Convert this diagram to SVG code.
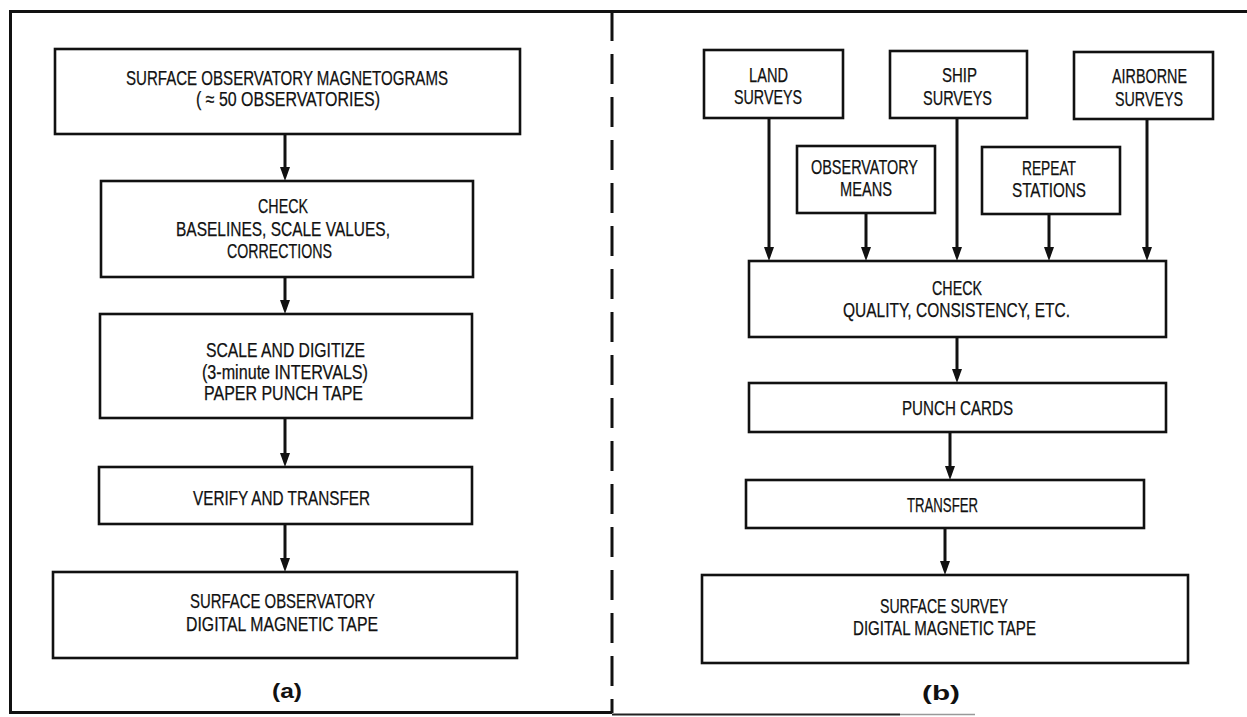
<svg xmlns="http://www.w3.org/2000/svg" width="1247" height="717" viewBox="0 0 1247 717">
<defs>
<marker id="ah" viewBox="0 0 14 10" refX="4" refY="5" markerWidth="14" markerHeight="10" markerUnits="userSpaceOnUse" orient="auto">
<path d="M0,0 L14,5 L0,10 z" fill="#111"/>
</marker>
<style>
.box{fill:#fff;stroke:#111;stroke-width:2.6}
.t{font-family:"Liberation Sans",Arial,sans-serif;font-size:20px;fill:#111;stroke:#111;stroke-width:0.25}
.lbl{font-family:"Liberation Sans",Arial,sans-serif;font-size:21px;font-weight:bold;fill:#111}
.c{stroke:#111;stroke-width:3;fill:none;marker-end:url(#ah)}
.frame{stroke:#111;stroke-width:3;fill:none}
</style>
</defs>
<rect width="1247" height="717" fill="#fff"/>
<g id="frame">
<line class="frame" x1="9" y1="11.5" x2="1247" y2="11.5"/>
<line class="frame" x1="10.5" y1="10" x2="10.5" y2="714"/>
<line class="frame" x1="9" y1="712.5" x2="612" y2="712.5"/>
<line x1="612" y1="714.5" x2="900" y2="714.5" stroke="#222" stroke-width="2"/>
<line x1="900" y1="714.5" x2="975" y2="714.5" stroke="#999" stroke-width="1.5"/>
<line x1="612" y1="11" x2="612" y2="713" stroke="#111" stroke-width="3" stroke-dasharray="30 13"/>
</g>
<g id="connectors">
<line class="c" x1="285" y1="134" x2="285" y2="171"/>
<line class="c" x1="285" y1="277" x2="285" y2="304"/>
<line class="c" x1="285" y1="418" x2="285" y2="457"/>
<line class="c" x1="285" y1="524" x2="285" y2="562"/>
<line class="c" x1="769" y1="118" x2="769" y2="251"/>
<line class="c" x1="866" y1="213" x2="866" y2="251"/>
<line class="c" x1="957" y1="118" x2="957" y2="251"/>
<line class="c" x1="1049" y1="214" x2="1049" y2="251"/>
<line class="c" x1="1147" y1="119" x2="1147" y2="251"/>
<line class="c" x1="957" y1="337" x2="957" y2="373"/>
<line class="c" x1="950" y1="432" x2="950" y2="470"/>
<line class="c" x1="945" y1="528" x2="945" y2="565"/>
</g>
<g id="a-magnetograms">
<rect class="box" x="55" y="49" width="465" height="85"/>
<text class="t" x="126" y="85" textLength="322" lengthAdjust="spacingAndGlyphs">SURFACE OBSERVATORY MAGNETOGRAMS</text>
<text class="t" x="196" y="106" textLength="184" lengthAdjust="spacingAndGlyphs">( ≈ 50 OBSERVATORIES)</text>
</g>
<g id="a-check">
<rect class="box" x="101" y="181" width="372" height="96"/>
<text class="t" x="258" y="213" textLength="50" lengthAdjust="spacingAndGlyphs">CHECK</text>
<text class="t" x="176" y="236" textLength="214" lengthAdjust="spacingAndGlyphs">BASELINES, SCALE VALUES,</text>
<text class="t" x="227" y="258" textLength="105" lengthAdjust="spacingAndGlyphs">CORRECTIONS</text>
</g>
<g id="a-digitize">
<rect class="box" x="100" y="314" width="372" height="104"/>
<text class="t" x="206" y="357" textLength="159" lengthAdjust="spacingAndGlyphs">SCALE AND DIGITIZE</text>
<text class="t" x="202" y="379" textLength="166" lengthAdjust="spacingAndGlyphs">(3-minute INTERVALS)</text>
<text class="t" x="204" y="400" textLength="159" lengthAdjust="spacingAndGlyphs">PAPER PUNCH TAPE</text>
</g>
<g id="a-verify">
<rect class="box" x="99" y="467" width="373" height="57"/>
<text class="t" x="193" y="505" textLength="177" lengthAdjust="spacingAndGlyphs">VERIFY AND TRANSFER</text>
</g>
<g id="a-tape">
<rect class="box" x="53" y="572" width="464" height="86"/>
<text class="t" x="190" y="608" textLength="185" lengthAdjust="spacingAndGlyphs">SURFACE OBSERVATORY</text>
<text class="t" x="186" y="631" textLength="192" lengthAdjust="spacingAndGlyphs">DIGITAL MAGNETIC TAPE</text>
</g>
<g id="label-a">
<text class="lbl" x="272" y="698" textLength="30" lengthAdjust="spacingAndGlyphs">(a)</text>
</g>
<g id="b-land">
<rect class="box" x="704" y="50" width="139" height="68"/>
<text class="t" x="749" y="82" textLength="39" lengthAdjust="spacingAndGlyphs">LAND</text>
<text class="t" x="734" y="104" textLength="68" lengthAdjust="spacingAndGlyphs">SURVEYS</text>
</g>
<g id="b-ship">
<rect class="box" x="890" y="51" width="137" height="67"/>
<text class="t" x="942" y="82" textLength="35" lengthAdjust="spacingAndGlyphs">SHIP</text>
<text class="t" x="923" y="105" textLength="69" lengthAdjust="spacingAndGlyphs">SURVEYS</text>
</g>
<g id="b-airborne">
<rect class="box" x="1074" y="52" width="139" height="67"/>
<text class="t" x="1112" y="83" textLength="75" lengthAdjust="spacingAndGlyphs">AIRBORNE</text>
<text class="t" x="1115" y="106" textLength="68" lengthAdjust="spacingAndGlyphs">SURVEYS</text>
</g>
<g id="b-obsmeans">
<rect class="box" x="797" y="146" width="138" height="67"/>
<text class="t" x="811" y="174" textLength="107" lengthAdjust="spacingAndGlyphs">OBSERVATORY</text>
<text class="t" x="840" y="196" textLength="52" lengthAdjust="spacingAndGlyphs">MEANS</text>
</g>
<g id="b-repeat">
<rect class="box" x="982" y="147" width="138" height="67"/>
<text class="t" x="1022" y="175" textLength="54" lengthAdjust="spacingAndGlyphs">REPEAT</text>
<text class="t" x="1012" y="197" textLength="74" lengthAdjust="spacingAndGlyphs">STATIONS</text>
</g>
<g id="b-check">
<rect class="box" x="749" y="261" width="417" height="76"/>
<text class="t" x="932" y="295" textLength="50" lengthAdjust="spacingAndGlyphs">CHECK</text>
<text class="t" x="843" y="317" textLength="227" lengthAdjust="spacingAndGlyphs">QUALITY, CONSISTENCY, ETC.</text>
</g>
<g id="b-punch">
<rect class="box" x="749" y="383" width="417" height="49"/>
<text class="t" x="902" y="415" textLength="111" lengthAdjust="spacingAndGlyphs">PUNCH CARDS</text>
</g>
<g id="b-transfer">
<rect class="box" x="746" y="480" width="398" height="48"/>
<text class="t" x="907" y="512" textLength="71" lengthAdjust="spacingAndGlyphs">TRANSFER</text>
</g>
<g id="b-tape">
<rect class="box" x="702" y="575" width="486" height="88"/>
<text class="t" x="880" y="613" textLength="128" lengthAdjust="spacingAndGlyphs">SURFACE SURVEY</text>
<text class="t" x="853" y="635" textLength="183" lengthAdjust="spacingAndGlyphs">DIGITAL MAGNETIC TAPE</text>
</g>
<g id="label-b">
<text class="lbl" x="922" y="700" textLength="38" lengthAdjust="spacingAndGlyphs">(b)</text>
</g>
</svg>
